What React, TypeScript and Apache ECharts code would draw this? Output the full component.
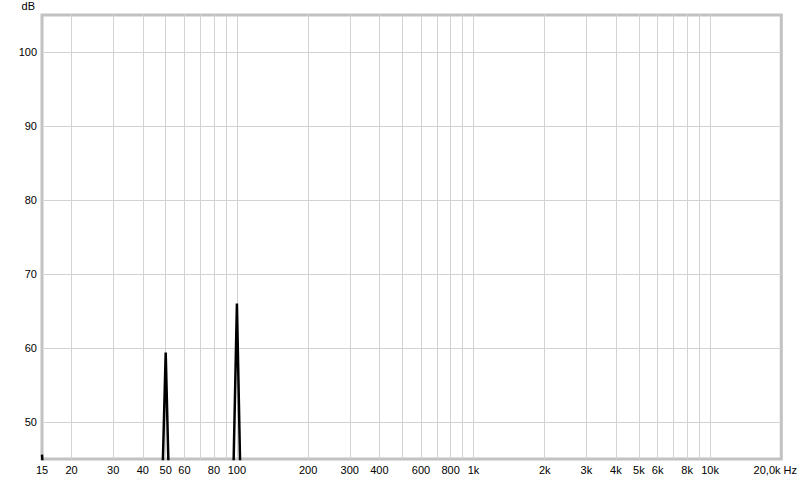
import React, { useEffect, useRef } from "react";
import * as echarts from "echarts";

// Spectrum samples (Hz, dB)
const freqs = [15, 15.4, 16, 18, 20, 25, 30, 35, 40, 45, 47.5, 50, 52.5, 56, 60, 70, 80, 90, 95, 100, 105, 115, 150, 200, 300, 500, 1000, 2000, 5000, 10000, 20000];
const levels = [45.6, 40, 36, 34, 33, 33, 32, 32, 31, 31, 32, 59.4, 32, 31, 31, 31, 31, 31, 32, 66.0, 32, 31, 31, 31, 30, 30, 30, 30, 30, 30, 30];

// Axis ticks
const xLabelFreqs = [15, 20, 30, 40, 50, 60, 80, 100, 200, 300, 400, 600, 800, 1000, 2000, 3000, 4000, 5000, 6000, 8000, 10000, 20000];
const xLabelTexts = ["15", "20", "30", "40", "50", "60", "80", "100", "200", "300", "400", "600", "800", "1k", "2k", "3k", "4k", "5k", "6k", "8k", "10k", "20,0k Hz"];
const xGridFreqs = [20, 30, 40, 50, 60, 70, 80, 90, 100, 200, 300, 400, 500, 600, 700, 800, 900, 1000, 2000, 3000, 4000, 5000, 6000, 7000, 8000, 9000, 10000];
const yTicks = [50, 60, 70, 80, 90, 100];
const yMin = 45;
const yMax = 105;
const fMin = 15;
const fMax = 20000;

const lg = (v: number) => Math.log10(v);

export default function App() {
  const ref = useRef<HTMLDivElement>(null);
  useEffect(() => {
    document.body.style.margin = "0";
    if (!ref.current) return;
    const chart = echarts.init(ref.current, null, { renderer: "svg" });
    const font = "Liberation Sans, Arial, sans-serif";
    chart.setOption({
      animation: false,
      backgroundColor: "#ffffff",
      grid: {
        left: 42,
        right: 18,
        top: 15,
        bottom: 21,
        show: true,
        borderColor: "#c2c2c2",
        borderWidth: 3,
        backgroundColor: "transparent",
      },
      xAxis: {
        type: "value",
        min: lg(fMin),
        max: lg(fMax),
        axisLine: { show: false },
        axisTick: { show: false, customValues: xGridFreqs.map(lg) },
        splitLine: { show: true, lineStyle: { color: "#d3d3d3", width: 1 } },
        axisLabel: {
          customValues: xLabelFreqs.map(lg),
          margin: 5,
          color: "#000",
          fontFamily: font,
          fontSize: 11,
          formatter: (v: number) => {
            let best = 0;
            let bd = Infinity;
            xLabelFreqs.forEach((f, i) => {
              const d = Math.abs(lg(f) - v);
              if (d < bd) { bd = d; best = i; }
            });
            const t = xLabelTexts[best];
            return best === xLabelTexts.length - 1 ? "{e|" + t + "}" : t;
          },
          rich: {
            e: { padding: [0, 12, 0, 0], color: "#000", fontFamily: font, fontSize: 11 },
          },
        },
      },
      yAxis: {
        type: "value",
        min: yMin,
        max: yMax,
        name: "dB",
        nameLocation: "end",
        nameGap: 9,
        nameTextStyle: { color: "#000", fontFamily: font, fontSize: 11, align: "right", verticalAlign: "middle", padding: [0, 7, 0, 0] },
        axisLine: { show: false },
        axisTick: { show: false, customValues: yTicks },
        splitLine: { show: true, lineStyle: { color: "#d3d3d3", width: 1 } },
        axisLabel: {
          customValues: yTicks,
          margin: 5,
          color: "#000",
          fontFamily: font,
          fontSize: 11,
        },
      },
      series: [
        {
          type: "line",
          data: freqs.map((f, i) => [lg(f), levels[i]]),
          showSymbol: false,
          symbol: "none",
          clip: true,
          lineStyle: { color: "#000", width: 2.5 },
        },
      ],
    });
    return () => chart.dispose();
  }, []);
  return <div ref={ref} style={{ width: 800, height: 480 }} />;
}
